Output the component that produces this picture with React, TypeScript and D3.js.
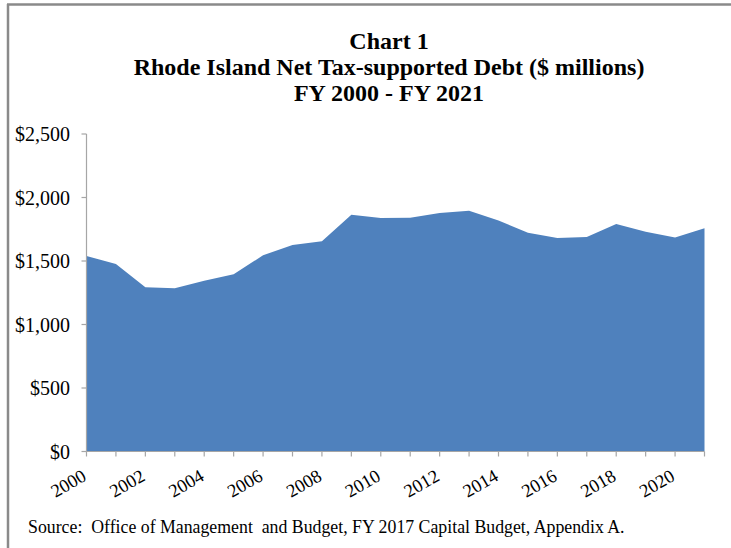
import React from "react";
import * as d3 from "d3";

const years: number[] = [2000, 2001, 2002, 2003, 2004, 2005, 2006, 2007, 2008, 2009, 2010, 2011, 2012, 2013, 2014, 2015, 2016, 2017, 2018, 2019, 2020, 2021];
const debt: number[] = [1540, 1476, 1293, 1285, 1345, 1395, 1545, 1626, 1655, 1865, 1838, 1840, 1878, 1896, 1818, 1723, 1681, 1689, 1791, 1731, 1686, 1757];
const yTicks: number[] = [0, 500, 1000, 1500, 2000, 2500];
const xLabelYears: number[] = [2000, 2002, 2004, 2006, 2008, 2010, 2012, 2014, 2016, 2018, 2020];
const titleLines: string[] = ["Chart 1", "Rhode Island Net Tax-supported Debt ($ millions)", "FY 2000 - FY 2021"];
const sourceText = "Source:  Office of Management  and Budget, FY 2017 Capital Budget, Appendix A.";

const W = 731;
const H = 548;
const plot = { left: 86.5, right: 704.5, top: 134, bottom: 451.5 };
const font = "'Liberation Serif', 'Times New Roman', serif";

export default function App() {
  const x = d3.scaleLinear().domain([2000, 2021]).range([plot.left, plot.right]);
  const y = d3.scaleLinear().domain([0, 2500]).range([plot.bottom, plot.top]);
  const area = d3
    .area<number>()
    .x((_, i) => x(years[i]))
    .y0(y(0))
    .y1((d) => y(d));
  const fmt = (v: number) => "$" + d3.format(",")(v);

  return (
    <svg width={W} height={H} style={{ position: "absolute", left: 0, top: 0, background: "#fff" }}>
      <rect x={0} y={0} width={W} height={H} fill="#fff" />
      {/* border */}
      <line x1={7} y1={4.5} x2={W} y2={4.5} stroke="#8a8a8a" strokeWidth={2.5} />
      <line x1={8} y1={4} x2={8} y2={H} stroke="#8a8a8a" strokeWidth={2.5} />

      {titleLines.map((t, i) => (
        <text key={i} x={389} y={49 + i * 25.8} textAnchor="middle" fontFamily={font} fontWeight="bold" fontSize={24} fill="#000">
          {t}
        </text>
      ))}

      <path d={area(debt) || ""} fill="#4F81BD" />

      {/* y axis */}
      <line x1={plot.left} y1={plot.top} x2={plot.left} y2={plot.bottom} stroke="#a6a6a6" strokeWidth={1.2} />
      {yTicks.map((t) => (
        <g key={t}>
          <line x1={plot.left - 5} x2={plot.left} y1={y(t)} y2={y(t)} stroke="#a6a6a6" strokeWidth={1.2} />
          <text x={70} y={y(t)} dy="0.35em" textAnchor="end" fontFamily={font} fontSize={20} fill="#000">
            {fmt(t)}
          </text>
        </g>
      ))}

      {/* x axis */}
      <line x1={plot.left} y1={plot.bottom} x2={plot.right} y2={plot.bottom} stroke="#a6a6a6" strokeWidth={1.2} />
      {years.map((yr) => (
        <line key={yr} x1={x(yr)} x2={x(yr)} y1={plot.bottom} y2={plot.bottom + 5} stroke="#a6a6a6" strokeWidth={1.2} />
      ))}
      {xLabelYears.map((yr) => (
        <text
          key={yr}
          transform={`translate(${x(yr) + 1},${plot.bottom + 28}) rotate(-30)`}
          textAnchor="end"
          fontFamily={font}
          fontSize={18.5}
          fill="#000"
        >
          {yr}
        </text>
      ))}

      <text x={28} y={533} fontFamily={font} fontSize={17.8} fill="#000" style={{ whiteSpace: "pre" }}>
        {sourceText}
      </text>
    </svg>
  );
}
